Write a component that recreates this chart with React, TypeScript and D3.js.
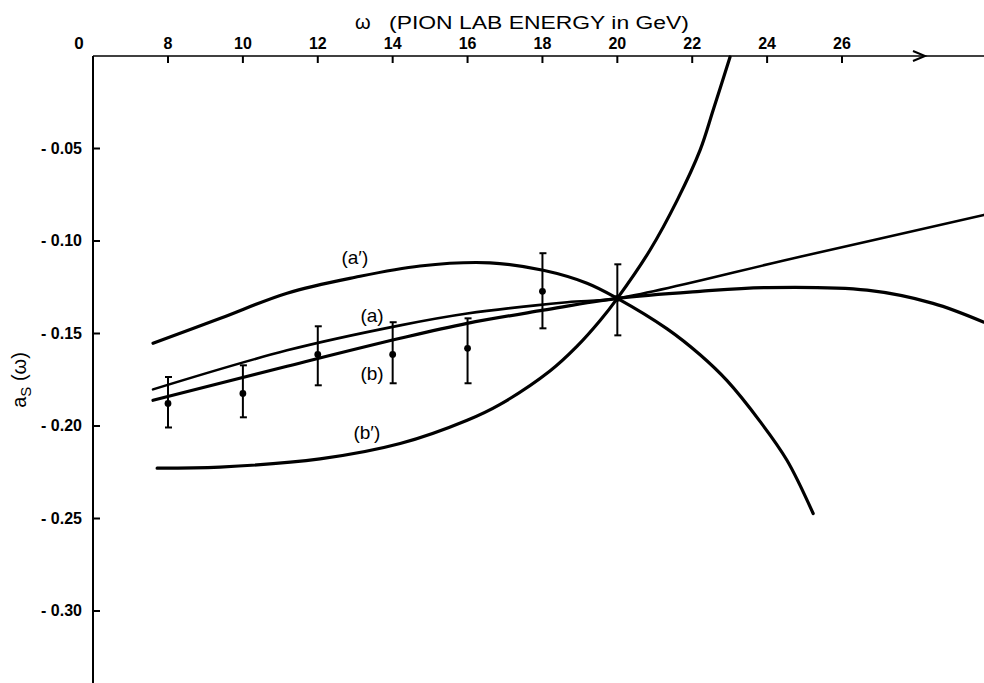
import React from "react";
import * as d3 from "d3";

const W = 984;
const H = 683;

// x tick values (pion lab energy, GeV) and y tick values (a_S)
const xTicks = [8, 10, 12, 14, 16, 18, 20, 22, 24, 26];
const yTicks = [-0.05, -0.1, -0.15, -0.2, -0.25, -0.3];
const yTickLabels = ["- 0.05", "- 0.10", "- 0.15", "- 0.20", "- 0.25", "- 0.30"];

// curve (a')
const aPrimeX = [7.6, 9.4, 11.18, 13.0, 14.73, 16.6, 18.02, 19.19, 20.0, 21.33, 22.21, 22.93, 23.81, 24.53, 25.23];
const aPrimeY = [-0.1553, -0.1418, -0.1282, -0.1196, -0.1135, -0.1118, -0.1158, -0.1228, -0.131, -0.1475, -0.1615, -0.1755, -0.1975, -0.2185, -0.2473];

// curve (a)
const aX = [7.6, 11.18, 14.2, 15.99, 18.66, 20.0, 24.88, 29.79];
const aY = [-0.1802, -0.1591, -0.1456, -0.1392, -0.1331, -0.131, -0.1085, -0.0859];

// curve (b)
const bX = [7.6, 11.18, 14.2, 15.99, 18.02, 20.0, 22.21, 24.0, 26.67, 28.43, 29.79];
const bY = [-0.1861, -0.1677, -0.1526, -0.1445, -0.1374, -0.131, -0.1272, -0.1252, -0.1266, -0.1337, -0.1439];

// curve (b')
const bPrimeX = [7.71, 9.39, 12.06, 14.2, 15.99, 16.87, 18.2, 18.92, 19.54, 20.0, 20.87, 21.6, 22.21, 22.56, 23.01];
const bPrimeY = [-0.2228, -0.2222, -0.2178, -0.2095, -0.1969, -0.1883, -0.1703, -0.157, -0.143, -0.131, -0.105, -0.0779, -0.0509, -0.0292, -0.0005];

// experimental points with error bars
const ptX = [8, 10, 12, 14, 16, 18, 20];
const ptVal = [-0.1878, -0.1824, -0.1613, -0.1613, -0.158, -0.1272, -0.131];
const ptLo = [-0.2008, -0.1953, -0.178, -0.1769, -0.1769, -0.1472, -0.151];
const ptHi = [-0.1735, -0.1672, -0.1461, -0.1439, -0.1418, -0.1066, -0.1126];

// curve labels
const curveNames = ["(a′)", "(a)", "(b)", "(b′)"];
const labelX = [12.99, 13.45, 13.45, 13.31];
const labelY = [-0.1092, -0.1405, -0.1719, -0.2038];

export default function App() {
  const x = d3.scaleLinear().domain([8, 26]).range([168, 842]);
  const y = d3.scaleLinear().domain([0, -0.3]).range([56, 611]);
  const axisX0 = 93;
  const axisY0 = y(0);

  const line = d3
    .line<[number, number]>()
    .x((d) => x(d[0]))
    .y((d) => y(d[1]))
    .curve(d3.curveCatmullRom.alpha(0.5));

  const series = [
    { xs: aPrimeX, ys: aPrimeY },
    { xs: aX, ys: aY },
    { xs: bX, ys: bY },
    { xs: bPrimeX, ys: bPrimeY },
  ];

  const font = "'Liberation Sans', Arial, sans-serif";

  return (
    <svg
      width={W}
      height={H}
      style={{ position: "absolute", left: 0, top: 0, background: "#fff" }}
    >
      <defs>
        <clipPath id="plot">
          <rect x={axisX0} y={axisY0 - 1} width={W - axisX0} height={H - axisY0 + 1} />
        </clipPath>
      </defs>
      <rect x={0} y={0} width={W} height={H} fill="#fff" />

      {/* title */}
      <text x={355} y={29} fontFamily={font} fontSize={20} fill="#000">ω</text>
      <text
        x={389}
        y={29}
        fontFamily={font}
        fontSize={18}
        fill="#000"
        textLength={300}
        lengthAdjust="spacingAndGlyphs"
      >
        (PION LAB ENERGY in GeV)
      </text>

      {/* top axis */}
      <line x1={axisX0} y1={axisY0} x2={W} y2={axisY0} stroke="#000" strokeWidth={1.6} />
      <polyline
        points={`${913},${axisY0 - 5} ${925},${axisY0} ${913},${axisY0 + 5}`}
        fill="none"
        stroke="#000"
        strokeWidth={2}
      />
      {xTicks.map((t) => (
        <g key={`xt${t}`}>
          <line x1={x(t)} y1={axisY0} x2={x(t)} y2={axisY0 + 7} stroke="#000" strokeWidth={2} />
          <text
            x={x(t)}
            y={axisY0 - 7}
            textAnchor="middle"
            fontFamily={font}
            fontWeight="bold"
            fontSize={16}
            fill="#000"
          >
            {t}
          </text>
        </g>
      ))}
      <text x={79} y={axisY0 - 7} textAnchor="middle" fontFamily={font} fontWeight="bold" fontSize={17} fill="#000">
        0
      </text>

      {/* left axis */}
      <line x1={axisX0} y1={axisY0} x2={axisX0} y2={H} stroke="#000" strokeWidth={2} />
      {yTicks.map((t, i) => (
        <g key={`yt${i}`}>
          <line x1={axisX0} y1={y(t)} x2={axisX0 + 7} y2={y(t)} stroke="#000" strokeWidth={2} />
          <text
            x={82}
            y={y(t) + 5}
            textAnchor="end"
            fontFamily={font}
            fontWeight="bold"
            fontSize={16}
            fill="#000"
          >
            {yTickLabels[i]}
          </text>
        </g>
      ))}

      {/* y axis title */}
      <g transform="translate(26,380) rotate(-90)">
        <text textAnchor="middle" fontFamily={font} fontSize={20} fill="#000">
          a
          <tspan fontSize={15} dy={5}>S</tspan>
          <tspan dy={-5}>{" (ω)"}</tspan>
        </text>
      </g>

      {/* curves */}
      <g clipPath="url(#plot)">
        {series.map((s, i) => (
          <path
            key={`c${i}`}
            d={line(s.xs.map((v, k) => [v, s.ys[k]] as [number, number])) || ""}
            fill="none"
            stroke="#000"
            strokeWidth={i === 1 ? 2.6 : 3.2}
            strokeLinecap="round"
            strokeLinejoin="round"
          />
        ))}
      </g>

      {/* error bars */}
      {ptX.map((v, i) => (
        <g key={`p${i}`}>
          <line x1={x(v)} y1={y(ptHi[i])} x2={x(v)} y2={y(ptLo[i])} stroke="#000" strokeWidth={2} />
          <line x1={x(v) - 3} y1={y(ptHi[i])} x2={x(v) + 4} y2={y(ptHi[i])} stroke="#000" strokeWidth={2} />
          <line x1={x(v) - 3} y1={y(ptLo[i])} x2={x(v) + 4} y2={y(ptLo[i])} stroke="#000" strokeWidth={2} />
          <circle cx={x(v)} cy={y(ptVal[i])} r={3.4} fill="#000" />
        </g>
      ))}

      {/* curve labels */}
      {curveNames.map((n, i) => (
        <text
          key={`l${i}`}
          x={x(labelX[i])}
          y={y(labelY[i]) + 6}
          textAnchor="middle"
          fontFamily={font}
          fontSize={19}
          fill="#000"
        >
          {n}
        </text>
      ))}
    </svg>
  );
}
